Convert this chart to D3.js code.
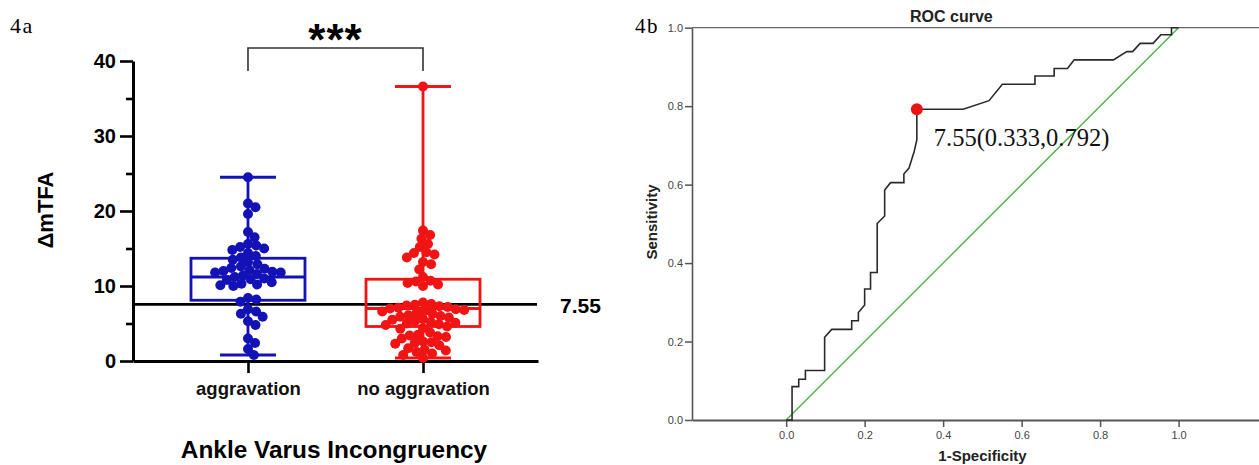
<!DOCTYPE html>
<html>
<head>
<meta charset="utf-8">
<script src="https://cdn.jsdelivr.net/npm/d3@7"></script>
<style>
  body { margin: 0; background: #fff; }
  svg { display: block; }
</style>
</head>
<body>
<div id="container"></div>
<script>
/* DATA */
const groups = ["aggravation", "no aggravation"]
const groupColors = ["#1212b6", "#f01414"]

// ΔmTFA per patient
const aggravationValues = [24.5, 21.0, 20.5, 19.6, 17.2, 16.5, 15.6, 15.4, 15.2, 15.0, 14.8, 14.4, 14.0, 13.8,
  13.5, 13.2, 12.9, 12.6, 12.4, 12.3, 12.1, 12.0, 11.9, 11.8, 11.8, 11.6, 11.4, 11.2, 11.0, 10.9, 10.8,
  10.5, 10.3, 10.2, 10.1, 10.0, 8.4, 8.2, 7.9, 6.9, 6.6, 6.3, 5.9, 5.3, 4.8, 3.0, 2.4, 1.6, 0.8]
const noAggravationValues = [36.6, 17.4, 16.8, 16.3, 15.6, 15.2, 14.5, 14.4, 14.2, 13.8, 13.2, 12.9, 12.2, 11.2,
  10.7, 10.6, 10.4, 10.2, 10.0, 7.8, 7.6, 7.5, 7.4, 7.3, 7.2, 7.1, 7.0, 6.9, 6.8, 6.7, 6.6,
  6.4, 6.3, 6.1, 6.0, 5.9, 5.8, 5.6, 5.5, 5.3, 5.2, 5.1, 5.0, 4.9, 4.8, 4.6, 4.4, 4.3,
  3.8, 3.5, 3.4, 3.3, 3.2, 3.0, 2.6, 2.5, 2.4, 2.3, 2.1, 1.7, 1.5, 1.4, 1.2, 1.0, 0.8, 0.4]

// box plot statistics (min, q1, median, q3, max) per group
const boxMin = [0.8, 0.4]
const boxQ1 = [8.1, 4.6]
const boxMedian = [11.2, 7.0]
const boxQ3 = [13.7, 10.9]
const boxMax = [24.5, 36.6]

const cutoff = 7.55
const yTicks = [0, 10, 20, 30, 40]
const yMinorTicks = [5, 15, 25, 35]

// ROC curve (1-specificity, sensitivity)
const rocFpr = [0, 0.015, 0.015, 0.032, 0.032, 0.049, 0.049, 0.098, 0.098, 0.116, 0.167, 0.167, 0.184, 0.184,
  0.2, 0.2, 0.215, 0.215, 0.232, 0.232, 0.251, 0.251, 0.266, 0.3, 0.3, 0.313, 0.326, 0.333, 0.333,
  0.451, 0.517, 0.551, 0.634, 0.634, 0.683, 0.683, 0.717, 0.734, 0.834, 0.868, 0.883, 0.902, 0.935,
  0.955, 0.982, 0.982, 1.0]
const rocTpr = [0, 0, 0.085, 0.085, 0.104, 0.104, 0.126, 0.126, 0.211, 0.231, 0.231, 0.253, 0.253, 0.274,
  0.293, 0.334, 0.334, 0.376, 0.376, 0.501, 0.52, 0.586, 0.605, 0.605, 0.627, 0.642, 0.684, 0.714, 0.792,
  0.792, 0.814, 0.856, 0.856, 0.877, 0.877, 0.896, 0.896, 0.918, 0.918, 0.939, 0.939, 0.96, 0.96,
  0.982, 0.982, 1.0, 1.0]
const refFpr = [0, 1]
const refTpr = [0, 1]
const bestFpr = [0.333]
const bestTpr = [0.792]
const bestLabel = ["7.55(0.333,0.792)"]
const rocTicks = [0, 0.2, 0.4, 0.6, 0.8, 1.0]

/* CONSTANTS */
const width = 1259, height = 465
const sans = "Arial, 'Liberation Sans', sans-serif"
const serif = "'Times New Roman', 'Liberation Serif', serif"

const svg = d3.select("#container")
  .append("svg")
  .attr("width", width)
  .attr("height", height)

/* ---------- 4a : box + dot plot ---------- */
const yScale = d3.scaleLinear().domain([0, 40]).range([361, 61])
const xScale = d3.scalePoint().domain(groups).range([133, 538]).padding(0.657)
const boxW = 114, capW = 56, dotR = 5

// simple beeswarm so the dots do not pile up
function swarm(values, cx) {
  const sep = dotR * 2 * 0.84
  const placed = []
  const out = []
  const order = values.map((v, i) => i).sort((a, b) => values[b] - values[a])
  order.forEach(i => {
    const py = yScale(values[i])
    const cands = [0]
    placed.forEach(p => {
      const dy = py - p.y
      if (Math.abs(dy) < sep) {
        const dx = Math.sqrt(sep * sep - dy * dy)
        cands.push(p.x - cx + dx, p.x - cx - dx)
      }
    })
    cands.sort((a, b) => Math.abs(a) - Math.abs(b))
    const off = cands.find(c => placed.every(p => (p.x - cx - c) ** 2 + (p.y - py) ** 2 >= sep * sep - 0.01))
    placed.push({ x: cx + off, y: py })
    out[i] = { x: cx + off, y: py }
  })
  return out
}

// cut-off line (behind everything)
svg.append("line")
  .attr("x1", xScale.range()[0]).attr("x2", xScale.range()[1] - 1)
  .attr("y1", yScale(cutoff)).attr("y2", yScale(cutoff))
  .attr("stroke", "#000").attr("stroke-width", 2.6)

svg.append("text")
  .attr("x", 560).attr("y", yScale(cutoff) + 8.5)
  .style("font-family", sans).style("font-weight", "bold").style("font-size", "21px")
  .text(cutoff)

// axes
const yAxis = d3.axisLeft(yScale).tickValues(yTicks).tickSize(13).tickSizeOuter(0).tickPadding(4)
const yAxisGroup = svg.append("g")
  .attr("transform", `translate(133, 0)`)
  .call(yAxis)
yAxisGroup.select(".domain").attr("stroke-width", 3).attr("stroke", "#000")
yAxisGroup.selectAll(".tick line").attr("stroke-width", 2.6)
yAxisGroup.selectAll("text")
  .style("font-family", sans).style("font-weight", "bold").style("font-size", "20px").attr("fill", "#000")

const yMinor = svg.append("g")
  .attr("transform", `translate(133, 0)`)
  .call(d3.axisLeft(yScale).tickValues(yMinorTicks).tickSize(7).tickFormat(""))
yMinor.select(".domain").remove()
yMinor.selectAll(".tick line").attr("stroke-width", 2.6)

const xAxis = d3.axisBottom(xScale).tickSize(12).tickSizeOuter(0).tickPadding(9)
const xAxisGroup = svg.append("g")
  .attr("transform", `translate(0, 361)`)
  .call(xAxis)
xAxisGroup.select(".domain").attr("stroke-width", 3).attr("stroke", "#000")
xAxisGroup.selectAll(".tick line").attr("stroke-width", 2.6)
xAxisGroup.selectAll("text")
  .style("font-family", sans).style("font-weight", "bold").style("font-size", "18.5px").attr("fill", "#111")

// boxes and whiskers
groups.forEach((g, i) => {
  const cx = xScale(g)
  const col = groupColors[i]
  const gg = svg.append("g").attr("stroke", col).attr("stroke-width", 2.8).attr("fill", "none")
  gg.append("line").attr("x1", cx).attr("x2", cx).attr("y1", yScale(boxMax[i])).attr("y2", yScale(boxQ3[i]))
  gg.append("line").attr("x1", cx).attr("x2", cx).attr("y1", yScale(boxQ1[i])).attr("y2", yScale(boxMin[i]))
  gg.append("line").attr("x1", cx - capW / 2).attr("x2", cx + capW / 2).attr("y1", yScale(boxMax[i])).attr("y2", yScale(boxMax[i]))
  gg.append("line").attr("x1", cx - capW / 2).attr("x2", cx + capW / 2).attr("y1", yScale(boxMin[i])).attr("y2", yScale(boxMin[i]))
  gg.append("rect")
    .attr("x", cx - boxW / 2).attr("width", boxW)
    .attr("y", yScale(boxQ3[i])).attr("height", yScale(boxQ1[i]) - yScale(boxQ3[i]))
  gg.append("line").attr("x1", cx - boxW / 2).attr("x2", cx + boxW / 2).attr("y1", yScale(boxMedian[i])).attr("y2", yScale(boxMedian[i]))
})

// dots
const allValues = [aggravationValues, noAggravationValues]
allValues.forEach((vals, i) => {
  svg.append("g").selectAll("circle")
    .data(swarm(vals, xScale(groups[i])))
    .join("circle")
    .attr("cx", d => d.x)
    .attr("cy", d => d.y)
    .attr("r", dotR)
    .attr("fill", groupColors[i])
})

// significance bracket
const x0 = xScale(groups[0]), x1 = xScale(groups[1])
svg.append("path")
  .attr("d", `M${x0},71V48H${x1}V71`)
  .attr("fill", "none").attr("stroke", "#333").attr("stroke-width", 1.6)
svg.append("text")
  .attr("x", (x0 + x1) / 2).attr("y", 55)
  .attr("text-anchor", "middle")
  .style("font-family", sans).style("font-weight", "bold").style("font-size", "44px")
  .style("letter-spacing", "1px")
  .text("***")

// titles
svg.append("text")
  .attr("transform", "translate(53, 210) rotate(-90)")
  .attr("text-anchor", "middle")
  .style("font-family", sans).style("font-weight", "bold").style("font-size", "22px")
  .text("ΔmTFA")

svg.append("text")
  .attr("x", 334).attr("y", 458)
  .attr("text-anchor", "middle")
  .style("font-family", sans).style("font-weight", "bold").style("font-size", "24.4px")
  .text("Ankle Varus Incongruency")

svg.append("text")
  .attr("x", 10).attr("y", 33)
  .style("font-family", serif).style("font-size", "22px").style("letter-spacing", "1.5px")
  .text("4a")

/* ---------- 4b : ROC curve ---------- */
const rx = d3.scaleLinear().domain([-0.24, 1.205]).range([692, 1259])
const ry = d3.scaleLinear().domain([0, 1]).range([420, 27.7])

// top frame line
svg.append("line")
  .attr("x1", 692).attr("x2", 1259).attr("y1", ry(1)).attr("y2", ry(1))
  .attr("stroke", "#666").attr("stroke-width", 1.2)

const rxAxis = svg.append("g")
  .attr("transform", `translate(0, ${ry(0)})`)
  .call(d3.axisBottom(rx).tickValues(rocTicks).tickFormat(d3.format(".1f")).tickSize(7).tickSizeOuter(0).tickPadding(4))
rxAxis.select(".domain").attr("stroke", "#555").attr("stroke-width", 2)
rxAxis.selectAll(".tick line").attr("stroke", "#555").attr("stroke-width", 1.5)
rxAxis.selectAll("text").style("font-family", sans).style("font-size", "11px").attr("fill", "#444")

const ryAxis = svg.append("g")
  .attr("transform", `translate(692, 0)`)
  .call(d3.axisLeft(ry).tickValues(rocTicks).tickFormat(d3.format(".1f")).tickSize(7).tickSizeOuter(0).tickPadding(2))
ryAxis.select(".domain").attr("stroke", "#555").attr("stroke-width", 1.6)
ryAxis.selectAll(".tick line").attr("stroke", "#555").attr("stroke-width", 1.5)
ryAxis.selectAll("text").style("font-family", sans).style("font-size", "11px").attr("fill", "#444")

// reference diagonal
const lineGen = d3.line().x(d => rx(d[0])).y(d => ry(d[1]))
svg.append("path")
  .attr("d", lineGen(d3.zip(refFpr, refTpr)))
  .attr("fill", "none").attr("stroke", "#45b045").attr("stroke-width", 1.3)

// ROC curve
svg.append("path")
  .attr("d", lineGen(d3.zip(rocFpr, rocTpr)))
  .attr("fill", "none").attr("stroke", "#2a2a2a").attr("stroke-width", 1.6)

// best cut-off point
svg.selectAll(".best")
  .data(d3.zip(bestFpr, bestTpr, bestLabel))
  .join("circle")
  .attr("class", "best")
  .attr("cx", d => rx(d[0])).attr("cy", d => ry(d[1]))
  .attr("r", 6).attr("fill", "#ee1111")

svg.selectAll(".bestLabel")
  .data(d3.zip(bestFpr, bestTpr, bestLabel))
  .join("text")
  .attr("class", "bestLabel")
  .attr("x", d => rx(d[0]) + 17).attr("y", d => ry(d[1]) + 37)
  .style("font-family", serif).style("font-size", "24.5px").attr("fill", "#111")
  .text(d => d[2])

svg.append("text")
  .attr("x", 910).attr("y", 21.5)
  .style("font-family", sans).style("font-weight", "bold").style("font-size", "16px").attr("fill", "#222")
  .text("ROC curve")

svg.append("text")
  .attr("transform", "translate(657, 222) rotate(-90)")
  .attr("text-anchor", "middle")
  .style("font-family", sans).style("font-weight", "bold").style("font-size", "15px").attr("fill", "#222")
  .text("Sensitivity")

svg.append("text")
  .attr("x", 982.5).attr("y", 461)
  .attr("text-anchor", "middle")
  .style("font-family", sans).style("font-weight", "bold").style("font-size", "15px").attr("fill", "#222")
  .text("1-Specificity")

svg.append("text")
  .attr("x", 635).attr("y", 33)
  .style("font-family", serif).style("font-size", "21px").style("letter-spacing", "1.5px")
  .text("4b")
</script>
</body>
</html>
